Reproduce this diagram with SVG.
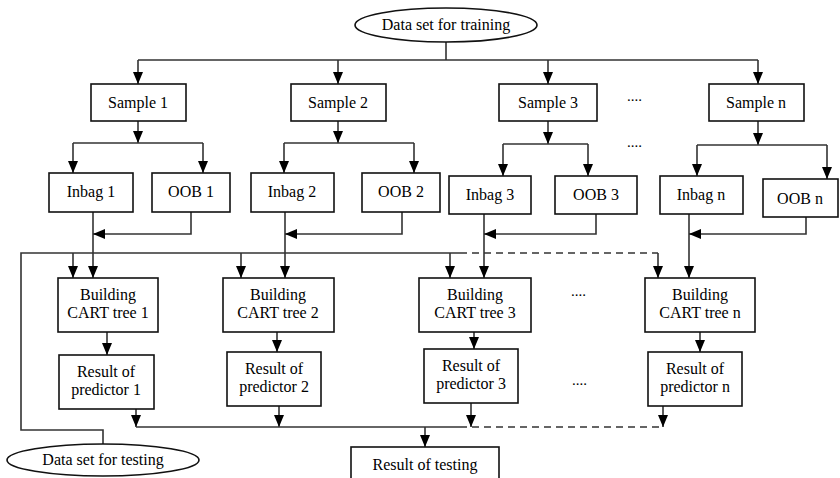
<svg xmlns="http://www.w3.org/2000/svg" width="840" height="478" viewBox="0 0 840 478">
<style>
.box{fill:#fff;stroke:#111;stroke-width:1.6}
.t{font-family:'Liberation Serif','DejaVu Serif','Times New Roman',serif;font-size:16px;fill:#000;text-anchor:middle}
.c{fill:none;stroke:#333;stroke-width:1.6}
.a{marker-end:url(#arr)}
.d{stroke-dasharray:7,5}
.dots{font-family:'Liberation Serif','DejaVu Serif',serif;font-size:15px;fill:#000}
</style>
<defs>
<marker id="arr" viewBox="0 0 12 10" refX="12" refY="5" markerWidth="12" markerHeight="10" markerUnits="userSpaceOnUse" orient="auto">
<path d="M0,0 L12,5 L0,10 z" fill="#000"/>
</marker>
</defs>
<rect width="840" height="478" fill="#fff"/>
<g id="connectors">
<path class="c" d="M446,42 V60 M138,60 H758"/>
<path class="c a" d="M138,60 V84"/>
<path class="c a" d="M338,60 V84"/>
<path class="c a" d="M548,60 V84"/>
<path class="c a" d="M758,60 V84"/>
<path class="c a" d="M138,121 V143"/>
<path class="c" d="M73,143 H203"/>
<path class="c a" d="M73,143 V173"/>
<path class="c a" d="M203,143 V173"/>
<path class="c a" d="M338,121 V143"/>
<path class="c" d="M284,143 H414"/>
<path class="c a" d="M284,143 V173"/>
<path class="c a" d="M414,143 V173"/>
<path class="c a" d="M548,121 V144"/>
<path class="c" d="M503,144 H588"/>
<path class="c a" d="M503,144 V176"/>
<path class="c a" d="M588,144 V176"/>
<path class="c a" d="M758,121 V145"/>
<path class="c" d="M697,145 H827"/>
<path class="c a" d="M697,145 V176"/>
<path class="c a" d="M827,145 V179"/>
<path class="c a" d="M93,212 V278"/>
<path class="c a" d="M191,212 V234 H93"/>
<path class="c a" d="M285,212 V278"/>
<path class="c a" d="M402,212 V234 H285"/>
<path class="c a" d="M484,214 V278"/>
<path class="c a" d="M596,214 V234 H484"/>
<path class="c a" d="M689,214 V278"/>
<path class="c a" d="M806,217 V234 H689"/>
<path class="c" d="M103,444 V430 H21 V253 H460"/>
<path class="c d" d="M460,253 H658"/>
<path class="c a" d="M658,253 V278"/>
<path class="c a" d="M73,253 V278"/>
<path class="c a" d="M241,253 V278"/>
<path class="c a" d="M450,253 V278"/>
<path class="c a" d="M107,332 V355"/>
<path class="c a" d="M277,332 V352"/>
<path class="c a" d="M474,332 V349"/>
<path class="c a" d="M700,332 V352"/>
<path class="c a" d="M136,409 V427"/>
<path class="c a" d="M279,406 V427"/>
<path class="c a" d="M471,403 V427"/>
<path class="c a" d="M663,406 V427"/>
<path class="c" d="M136,427 H460"/>
<path class="c d" d="M460,427 H663"/>
<path class="c a" d="M425,427 V447"/>
</g>
<g id="train">
<ellipse class="box" cx="446" cy="25" rx="91" ry="17"/>
<text class="t" x="446" y="30" font-family="Liberation Serif">Data set for training</text>
</g>
<g id="sample1"><rect class="box" x="91" y="84" width="95" height="37"/><text class="t" x="138" y="108">Sample 1</text></g>
<g id="sample2"><rect class="box" x="291" y="84" width="95" height="37"/><text class="t" x="338" y="108">Sample 2</text></g>
<g id="sample3"><rect class="box" x="499" y="84" width="98" height="37"/><text class="t" x="548" y="108">Sample 3</text></g>
<g id="samplen"><rect class="box" x="709" y="84" width="95" height="37"/><text class="t" x="756" y="108">Sample n</text></g>
<g id="inbag1"><rect class="box" x="49" y="173" width="84" height="39"/><text class="t" x="91" y="197">Inbag 1</text></g>
<g id="oob1"><rect class="box" x="152" y="173" width="78" height="39"/><text class="t" x="191" y="197">OOB 1</text></g>
<g id="inbag2"><rect class="box" x="251" y="173" width="83" height="39"/><text class="t" x="292" y="197">Inbag 2</text></g>
<g id="oob2"><rect class="box" x="362" y="173" width="78" height="39"/><text class="t" x="401" y="197">OOB 2</text></g>
<g id="inbag3"><rect class="box" x="449" y="176" width="82" height="38"/><text class="t" x="490" y="200">Inbag 3</text></g>
<g id="oob3"><rect class="box" x="555" y="176" width="82" height="38"/><text class="t" x="596" y="200">OOB 3</text></g>
<g id="inbagn"><rect class="box" x="660" y="176" width="83" height="38"/><text class="t" x="701" y="200">Inbag n</text></g>
<g id="oobn"><rect class="box" x="763" y="179" width="75" height="38"/><text class="t" x="800" y="204">OOB n</text></g>
<g id="cart1"><rect class="box" x="58" y="278" width="100" height="54"/><text class="t" x="108" y="300">Building</text><text class="t" x="108" y="318">CART tree 1</text></g>
<g id="cart2"><rect class="box" x="223" y="278" width="111" height="54"/><text class="t" x="278" y="300">Building</text><text class="t" x="278" y="318">CART tree 2</text></g>
<g id="cart3"><rect class="box" x="419" y="278" width="112" height="54"/><text class="t" x="475" y="300">Building</text><text class="t" x="475" y="318">CART tree 3</text></g>
<g id="cartn"><rect class="box" x="645" y="278" width="110" height="54"/><text class="t" x="700" y="300">Building</text><text class="t" x="700" y="318">CART tree n</text></g>
<g id="res1"><rect class="box" x="59" y="355" width="95" height="54"/><text class="t" x="106" y="377">Result of</text><text class="t" x="106" y="395">predictor 1</text></g>
<g id="res2"><rect class="box" x="227" y="352" width="94" height="54"/><text class="t" x="274" y="374">Result of</text><text class="t" x="274" y="392">predictor 2</text></g>
<g id="res3"><rect class="box" x="424" y="349" width="94" height="54"/><text class="t" x="471" y="371">Result of</text><text class="t" x="471" y="389">predictor 3</text></g>
<g id="resn"><rect class="box" x="648" y="352" width="94" height="54"/><text class="t" x="695" y="374">Result of</text><text class="t" x="695" y="392">predictor n</text></g>
<g id="test">
<ellipse class="box" cx="103" cy="460" rx="96" ry="16"/>
<text class="t" x="103" y="465">Data set for testing</text>
</g>
<g id="restest"><rect class="box" x="351" y="447" width="148" height="45"/><text class="t" x="425" y="470">Result of testing</text></g>
<g id="dots">
<text class="dots" x="627" y="101">....</text>
<text class="dots" x="627" y="147">....</text>
<text class="dots" x="571" y="296">....</text>
<text class="dots" x="572" y="385">....</text>
</g>
</svg>
